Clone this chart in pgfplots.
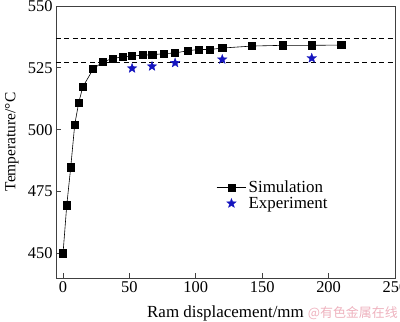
\documentclass[border=0pt]{standalone}
\usepackage{fontspec}
\setmainfont{Liberation Serif}
\newfontfamily\cjk{Noto Sans CJK SC}
\usepackage{pgfplots}
\pgfplotsset{compat=1.18}
\pgfdeclareplotmark{fstar}{%
  \pgfpathmoveto{\pgfpointpolar{90}{\pgfplotmarksize}}%
  \pgfpathlineto{\pgfpointpolar{126}{0.42\pgfplotmarksize}}%
  \pgfpathlineto{\pgfpointpolar{162}{\pgfplotmarksize}}%
  \pgfpathlineto{\pgfpointpolar{198}{0.42\pgfplotmarksize}}%
  \pgfpathlineto{\pgfpointpolar{234}{\pgfplotmarksize}}%
  \pgfpathlineto{\pgfpointpolar{270}{0.42\pgfplotmarksize}}%
  \pgfpathlineto{\pgfpointpolar{306}{\pgfplotmarksize}}%
  \pgfpathlineto{\pgfpointpolar{342}{0.42\pgfplotmarksize}}%
  \pgfpathlineto{\pgfpointpolar{18}{\pgfplotmarksize}}%
  \pgfpathlineto{\pgfpointpolar{54}{0.42\pgfplotmarksize}}%
  \pgfpathclose
  \pgfusepathqfillstroke
}
\pgfplotsset{
  simleg/.style={legend image code/.code={\draw[mark repeat=2,mark phase=2,##1] plot coordinates {(0cm,0cm) (0.525cm,0cm) (1.05cm,0cm)};}},
  expleg/.style={legend image code/.code={\draw[##1] plot coordinates {(0.525cm,0cm)};}},
}
\definecolor{starblue}{RGB}{20,20,190}
\definecolor{wmpink}{RGB}{238,178,190}
\begin{document}
\begin{tikzpicture}
\begin{axis}[
 name=ax,
 scale only axis, width=339bp, height=272bp,
 xmin=-5.3, xmax=250, ymin=440, ymax=550,
 xtick={0,50,...,250}, ytick={450,475,...,550},
 tick align=inside, xtick pos=bottom, ytick pos=left,
 major tick length=5bp,
 tick label style={font=\fontsize{16.5}{18}\selectfont},
 /pgf/number format/assume math mode=true,
 xlabel={Ram displacement/mm}, ylabel={Temperature/°C},
 xlabel style={at={(axis description cs:0.5,0)}, anchor=center, yshift=-35bp, font=\fontsize{17}{18}\selectfont},
 ylabel style={at={([xshift=-44bp]axis description cs:0,0.5)}, anchor=center, font=\fontsize{15.5}{17}\selectfont},
 axis line style={line width=0.8pt, black!75},
 tick style={line width=0.8pt, black!75},
 legend style={draw=none, fill=none, at={(axis cs:113,481)}, anchor=north west,
   font=\fontsize{17}{17}\selectfont, row sep=-1bp},
 legend cell align=left,
]
\addplot[black, line width=0.6pt, dash pattern=on 5bp off 3.5bp, forget plot] coordinates {(-5.3,537) (250,537)};
\addplot[black, line width=0.6pt, dash pattern=on 5bp off 3.5bp, forget plot] coordinates {(-5.3,527.4) (250,527.4)};
\addplot[black, line width=0.6pt, mark=square*, mark size=3.6pt, simleg] coordinates {
(0,450) (2.8,469.4) (5.8,484.8) (8.8,502) (11.8,510.9) (14.9,517.3) (22.7,524.5)
(30,527.4) (37.5,528.8) (44.8,529.4) (52,529.8) (59.9,530.1) (67.2,530.3) (75.8,530.7)
(84.4,531) (93.7,531.9) (102,532.4) (110.5,532.4) (119.9,533) (142.3,533.8)
(165.2,534.1) (187.6,534.1) (209.5,534.2)};
\addlegendentry{Simulation}
\addplot[only marks, mark=fstar, draw=starblue, fill=starblue, mark size=5pt, line width=0.3pt, expleg] coordinates {
(52,524.8) (67,525.6) (84.4,527) (119.9,528.4) (187.3,528.9)};
\addlegendentry{Experiment}
\end{axis}
\node[anchor=east, text=wmpink, font=\cjk\fontsize{13}{13}\selectfont, inner sep=0pt] at ([xshift=3bp,yshift=-35bp]ax.south east) {@有色金属在线};
\pgfresetboundingbox
\path (-56bp,-44bp) rectangle (344bp,278bp);
\end{tikzpicture}
\end{document}
